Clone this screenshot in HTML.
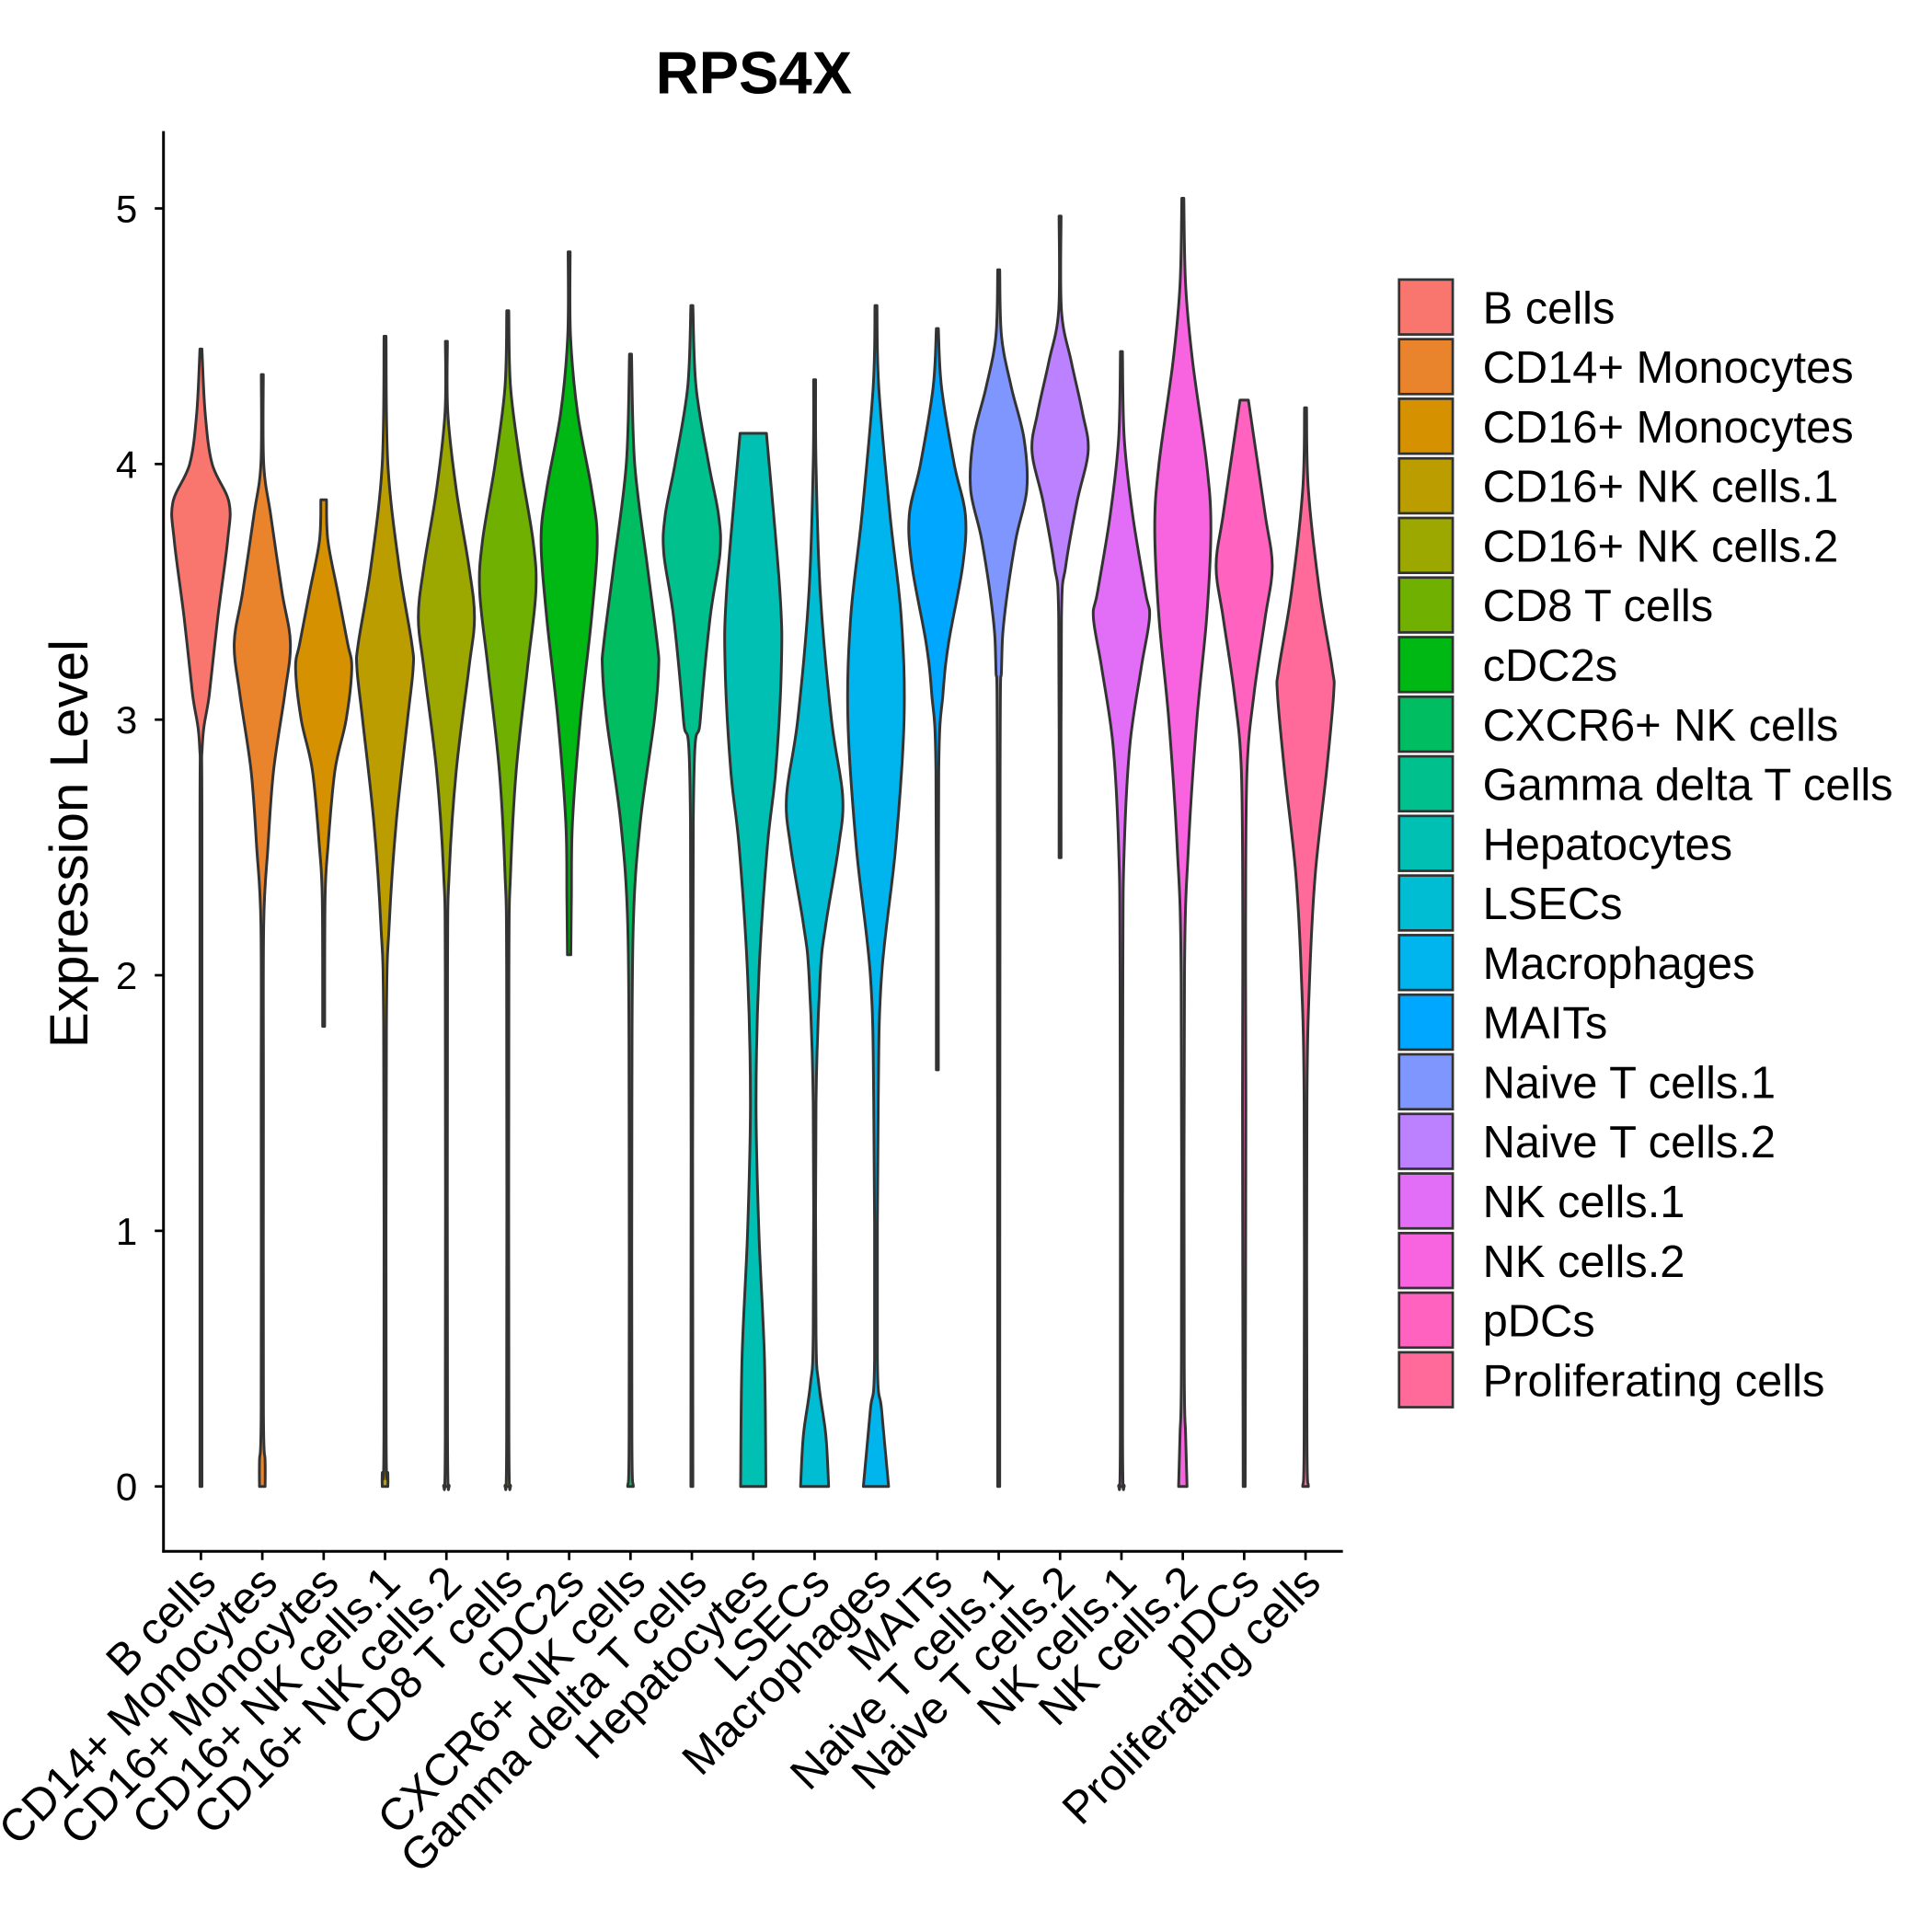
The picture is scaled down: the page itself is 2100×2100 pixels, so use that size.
<!DOCTYPE html>
<html><head><meta charset="utf-8"><style>html,body{margin:0;padding:0;background:#fff}svg{display:block}</style></head>
<body>
<svg id="chart" width="2100" height="2100" viewBox="0 0 1548 1548" xmlns="http://www.w3.org/2000/svg" font-family="Liberation Sans, Arial, sans-serif">
<rect width="1548" height="1548" fill="#fff"/>
<text x="604" y="75" font-size="48" font-weight="bold" text-anchor="middle">RPS4X</text>
<g id="violins"></g>
<g id="axes"></g>
<g id="legend"></g>
<text transform="translate(70,676) rotate(-90)" font-size="43" text-anchor="middle">Expression Level</text>
</svg>
<script>
const categories=["B cells","CD14+ Monocytes","CD16+ Monocytes","CD16+ NK cells.1","CD16+ NK cells.2","CD8 T cells","cDC2s","CXCR6+ NK cells","Gamma delta T cells","Hepatocytes","LSECs","Macrophages","MAITs","Naive T cells.1","Naive T cells.2","NK cells.1","NK cells.2","pDCs","Proliferating cells"];
const colors=["#F8766D","#E9842C","#D69100","#BC9D00","#9CA700","#6FB000","#00B813","#00BD61","#00C08E","#00C0B4","#00BDD4","#00B5EE","#00A7FF","#7F96FF","#BC81FF","#E26EF7","#F863DF","#FF62BF","#FF6A9A"];
const yTicks=[0,1,2,3,4,5];
// density profiles: [value, relative half-width]
const dens0=[[4.45,0],[4.2,0.15],[4.0,0.4],[3.85,1.0],[3.7,0.95],[3.4,0.6],[3.1,0.3],[2.9,0.05],[2.5,0.03],[0,0.03]];
const dens1=[[4.35,0],[4.0,0.05],[3.8,0.3],[3.5,0.7],[3.3,1.0],[3.1,0.8],[2.8,0.4],[2.5,0.2],[2.2,0.05],[1.5,0.04],[0.3,0.04],[0.1,0.1],[0,0.1]];
const dens2=[[3.86,0.1],[3.7,0.15],[3.5,0.5],[3.3,0.85],[3.2,1.0],[3.0,0.8],[2.8,0.4],[2.5,0.15],[2.3,0.05],[1.8,0.02]];
const dens3=[[4.5,0],[4.0,0.1],[3.6,0.5],[3.3,0.95],[3.2,1.0],[3.0,0.8],[2.6,0.4],[2.2,0.15],[1.8,0.05],[0.2,0.04],[0.05,0.1],[0,0.1]];
const dens4=[[4.48,0],[4.2,0.05],[3.9,0.35],[3.6,0.8],[3.4,1.0],[3.2,0.8],[2.8,0.35],[2.4,0.1],[2.0,0.04],[0.2,0.04],[0,0.1]];
const dens5=[[4.6,0],[4.3,0.1],[4.0,0.45],[3.7,0.9],[3.5,1.0],[3.2,0.7],[2.8,0.3],[2.4,0.1],[2.0,0.04],[0.2,0.04],[0,0.1]];
const dens6=[[4.83,0],[4.5,0.05],[4.2,0.3],[3.9,0.8],[3.7,1.0],[3.4,0.8],[3.0,0.4],[2.6,0.12],[2.3,0.08],[2.08,0.06]];
const dens7=[[4.43,0],[4.0,0.15],[3.6,0.6],[3.3,0.95],[3.2,1.0],[3.0,0.85],[2.6,0.35],[2.2,0.1],[1.5,0.05],[0.2,0.05],[0,0.1]];
const dens8=[[4.62,0],[4.3,0.15],[4.0,0.6],[3.8,0.95],[3.65,1.0],[3.4,0.65],[3.0,0.3],[2.6,0.05],[0,0.03]];
const dens9=[[4.12,0.47],[3.5,0.95],[3.2,1.0],[2.8,0.8],[2.5,0.5],[2.0,0.2],[1.5,0.1],[1.0,0.2],[0.5,0.4],[0,0.45]];
const dens10=[[4.33,0],[4.0,0.05],[3.5,0.2],[3.0,0.6],[2.7,1.0],[2.5,0.85],[2.2,0.4],[2.0,0.2],[1.5,0.05],[0.6,0.05],[0.4,0.15],[0.2,0.4],[0,0.5]];
const dens11=[[4.62,0],[4.3,0.1],[3.8,0.5],[3.4,0.9],[3.0,1.0],[2.5,0.7],[2.0,0.2],[1.5,0.08],[0.5,0.05],[0.3,0.2],[0,0.45]];
const dens12=[[4.53,0],[4.3,0.15],[4.0,0.6],[3.8,1.0],[3.6,0.9],[3.3,0.4],[3.1,0.2],[2.8,0.05],[1.63,0.03]];
const dens13=[[4.76,0],[4.5,0.1],[4.3,0.45],[4.1,0.9],[3.9,1.0],[3.7,0.6],[3.4,0.2],[3.2,0.1],[2.8,0.05],[0,0.03]];
const dens14=[[4.97,0],[4.6,0.05],[4.4,0.4],[4.2,0.8],[4.05,1.0],[3.85,0.6],[3.6,0.2],[3.4,0.05],[2.46,0.03]];
const dens15=[[4.44,0],[4.1,0.1],[3.8,0.4],[3.5,0.85],[3.4,1.0],[3.2,0.7],[2.9,0.3],[2.5,0.1],[2.0,0.05],[0.2,0.04],[0,0.1]];
const dens16=[[5.04,0],[4.7,0.1],[4.4,0.35],[4.0,0.85],[3.75,1.0],[3.4,0.85],[3.0,0.5],[2.5,0.2],[2.0,0.06],[0.5,0.05],[0.2,0.1],[0,0.15]];
const dens17=[[4.25,0.15],[4.1,0.35],[3.8,0.75],[3.6,1.0],[3.4,0.75],[3.1,0.35],[2.8,0.1],[2.2,0.05],[1.5,0.06],[0,0.03]];
const dens18=[[4.22,0],[3.9,0.1],[3.5,0.5],[3.2,0.95],[3.1,1.0],[2.8,0.75],[2.4,0.35],[2.0,0.15],[1.5,0.05],[0.2,0.05],[0,0.1]];
const densities=[dens0,dens1,dens2,dens3,dens4,dens5,dens6,dens7,dens8,dens9,dens10,dens11,dens12,dens13,dens14,dens15,dens16,dens17,dens18];

const NS="http://www.w3.org/2000/svg";
const X0=161,XSTEP=49.17,Y0=1191,YUNIT=204.8,HALF=22.5;
const xScale=i=>X0+i*XSTEP;
const yScale=v=>Y0-v*YUNIT;
function mk(tag,attrs,parent){const e=document.createElementNS(NS,tag);for(const k in attrs)e.setAttribute(k,attrs[k]);parent.appendChild(e);return e;}
function smooth(pts){
  let d="";
  for(let i=0;i<pts.length-1;i++){
    const p0=pts[Math.max(0,i-1)],p1=pts[i],p2=pts[i+1],p3=pts[Math.min(pts.length-1,i+2)];
    const c1=[p1[0]+(p2[0]-p0[0])/6,p1[1]+(p2[1]-p0[1])/6];
    const c2=[p2[0]-(p3[0]-p1[0])/6,p2[1]-(p3[1]-p1[1])/6];
    d+=` C${c1[0].toFixed(2)},${c1[1].toFixed(2)} ${c2[0].toFixed(2)},${c2[1].toFixed(2)} ${p2[0].toFixed(2)},${p2[1].toFixed(2)}`;
  }
  return d;
}
const vg=document.getElementById('violins');
densities.forEach((dens,i)=>{
  const cx=xScale(i);
  const right=dens.map(([v,w])=>[cx+Math.max(w*HALF,0.8),yScale(v)]);
  const left=dens.slice().reverse().map(([v,w])=>[cx-Math.max(w*HALF,0.8),yScale(v)]);
  let d=`M${right[0][0]},${right[0][1]}`+smooth(right)+` L${left[0][0]},${left[0][1]}`+smooth(left)+" Z";
  const p=mk('path',{d:d,fill:colors[i],stroke:"#333333","stroke-width":2.2,"stroke-linejoin":"round"},vg);
  
  
});
const ag=document.getElementById('axes');
const yl=mk('line',{x1:131,y1:105,x2:131,y2:1244,stroke:"#000","stroke-width":2.2},ag);


const xl=mk('line',{x1:130,y1:1243,x2:1076,y2:1243,stroke:"#000","stroke-width":2.2},ag);


yTicks.forEach(t=>{
  const y=yScale(t);
  const tk=mk('line',{x1:124,y1:y,x2:131,y2:y,stroke:"#000","stroke-width":2},ag);
  
  
  const tx=mk('text',{x:110,y:y+11,"font-size":31,"text-anchor":"end",fill:"#000"},ag);
  tx.textContent=t;
  
  
});
categories.forEach((c,i)=>{
  const x=xScale(i);
  const tk=mk('line',{x1:x,y1:1243,x2:x,y2:1250,stroke:"#000","stroke-width":2},ag);
  
  
  const tx=mk('text',{transform:`translate(${x+14},${1270}) rotate(-45)`,"font-size":36,"text-anchor":"end",fill:"#000"},ag);
  tx.textContent=c;
  
  
});
const lg=document.getElementById('legend');
categories.forEach((c,i)=>{
  const y=224+i*47.75;
  const r=mk('rect',{x:1121,y:y,width:43,height:44,fill:colors[i],stroke:"#333333","stroke-width":2},lg);
  
  
  const t=mk('text',{x:1188,y:y+35,"font-size":36,fill:"#000"},lg);
  t.textContent=c;
  
  
});
</script>
</body></html>
